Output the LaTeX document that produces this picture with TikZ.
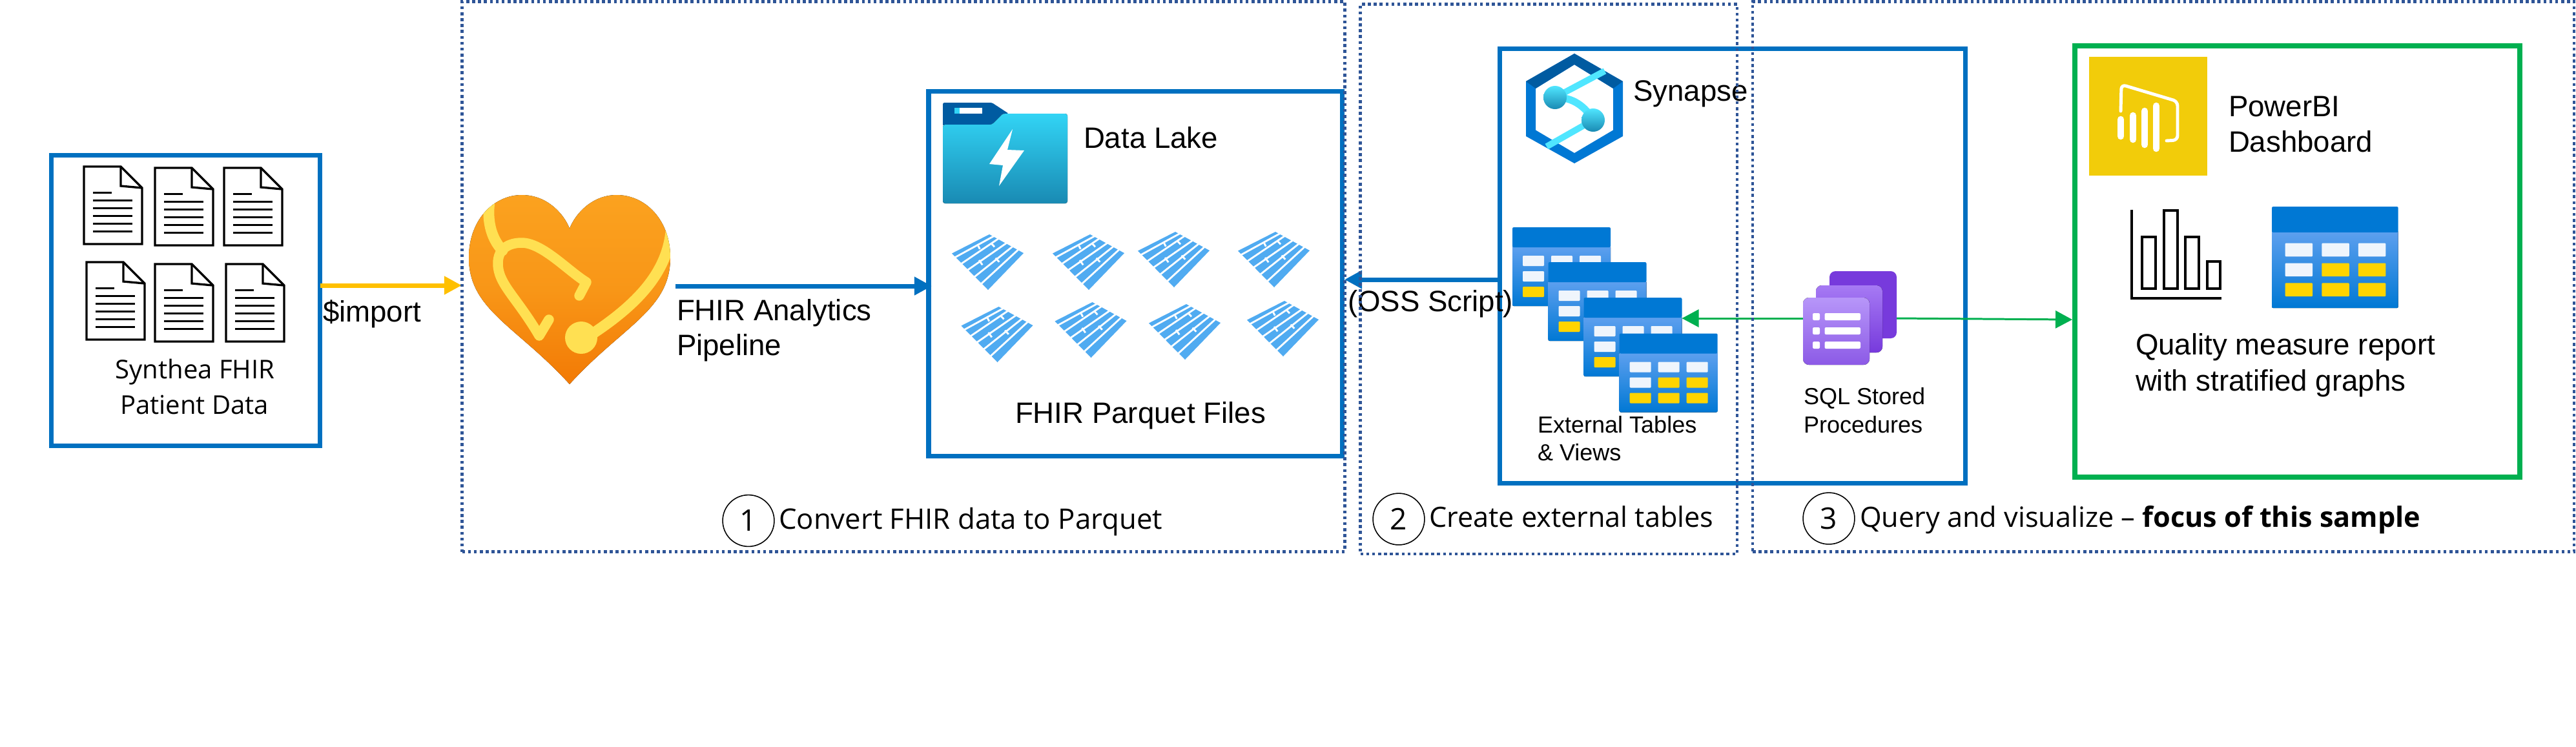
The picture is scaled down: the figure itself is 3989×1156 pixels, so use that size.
\documentclass[tikz,border=0pt]{standalone}
\usepackage{fontspec}
\setmainfont{Liberation Sans}
\newfontfamily\capfont{Open Sans}
\usetikzlibrary{arrows.meta,calc}
\definecolor{bluebox}{HTML}{0070C0}
\definecolor{greenbox}{HTML}{00B050}
\definecolor{dotblue}{HTML}{2F5597}
\definecolor{amber}{HTML}{FFC000}
\definecolor{azure}{HTML}{0078D4}
\definecolor{azuredark}{HTML}{005BA1}
\definecolor{azurelight}{HTML}{5EA0EF}
\definecolor{cellwhite}{HTML}{EFF5FC}
\definecolor{cellyellow}{HTML}{FFD400}
\definecolor{pqblue}{HTML}{50ABF1}
\definecolor{cyanlite}{HTML}{50E6FF}
\definecolor{cyandeep}{HTML}{198AB3}
\definecolor{cyantop}{HTML}{32D4F5}
\definecolor{purpA}{HTML}{773ADC}
\definecolor{purpB}{HTML}{A67AF4}
\definecolor{purpC}{HTML}{B796F9}
\definecolor{purpD}{HTML}{8C5AE6}
\definecolor{pbiyellow}{HTML}{F2CC0A}
\definecolor{heartA}{HTML}{FBA21F}
\definecolor{heartB}{HTML}{F27A05}
\definecolor{stetho}{HTML}{FFE052}
% text sizes given in reference pixels (1px = 0.01cm = 0.28453pt)
\newcommand{\pxfont}[1]{\fontsize{\dimexpr #1\dimexpr 0.28453pt\relax\relax}{\dimexpr #1\dimexpr 0.34pt\relax\relax}\selectfont}
\tikzset{
  x=0.01cm,y=-0.01cm,
  panel/.style={draw=bluebox,line width=2pt,fill=none},
  greenpanel/.style={draw=greenbox,line width=2.3pt,fill=none},
  dotbox/.style={draw=dotblue,line width=1.3pt,dash pattern=on 1.3pt off 1.3pt},
  flowblue/.style={draw=bluebox,line width=2pt,-{Triangle[length=7.7pt 0 0,width=7.7pt 0 0]}},
  flowamber/.style={draw=amber,line width=2pt,-{Triangle[length=7.7pt 0 0,width=7.7pt 0 0]}},
  flowgreen/.style={draw=greenbox,line width=0.85pt,-{Triangle[length=7.4pt 0 0,width=7.7pt 0 0]}},
  lab/.style={anchor=base west,inner sep=0,outer sep=0,font=\pxfont{45.6},align=left},
  smalllab/.style={anchor=base west,inner sep=0,outer sep=0,font=\pxfont{36}},
  caplab/.style={anchor=base west,inner sep=0,outer sep=0,font=\capfont\pxfont{43.2}},
  numcircle/.style={circle,draw=black,line width=0.45pt,minimum size=2.27pt*10,inner sep=0,font=\capfont\pxfont{46}},
  iconbox/.style={inner sep=0,outer sep=0,rectangle},
}
% doc icon at top-left #1,#2
\newcommand{\docicon}[2]{%
  \begin{scope}[shift={(#1,#2)}]
    \draw[black,line width=0.95pt,line join=miter,fill=white] (0,0)--(57,0)--(90,33)--(90,120)--(0,120)--cycle;
    \draw[black,line width=0.95pt] (57,0)--(57,30)--(90,33);
    \draw[black,line width=0.85pt] (14,40)--(43,40);
    \foreach \yy in {52,64,76,88,100}{\draw[black,line width=0.85pt] (14,\yy)--(75,\yy);}
  \end{scope}}
% parquet icon at top-left
\newcommand{\pqicon}[2]{%
  \begin{scope}[shift={(#1,#2)}]
    \fill[pqblue] (58,0)--(111,29)--(56,86)--(0,29.5)--cycle;
    \begin{scope}[white,line width=0.8pt,shorten <=-1pt,shorten >=-1pt]
      \draw (6,35)--(62,4.3);
      \draw (15.3,45)--(70,8);
      \draw (23.7,55.7)--(83.3,14.3);
      \draw (34.7,66)--(93.3,19.3);
      \draw (46,76)--(101.7,24.7);
    \end{scope}
    \begin{scope}[white,line width=0.8pt]
      \draw (40.7,17.7)--(43.3,22.7);
      \draw (61,14)--(66,19.3);
      \draw (42,40)--(47.3,47.3);
      \draw (67.7,36.7)--(73.3,42.7);
    \end{scope}
  \end{scope}}
% table icon at top-left, scaled
\newcommand{\tblicon}[3]{%
  \begin{scope}[shift={(#1,#2)},scale=#3]
    \fill[bottom color=azure,top color=azurelight,rounded corners=0.6pt] (0,29)--(0,122)--(152,122)--(152,29)--cycle;
    \fill[azure,rounded corners=0.6pt] (0,31)--(0,0)--(152,0)--(152,31)--cycle;
    \foreach \cx/\cy/\cc in {16/44/cellwhite,60/44/cellwhite,104/44/cellwhite,16/68/cellwhite,60/68/cellyellow,104/68/cellyellow,16/92/cellyellow,60/92/cellyellow,104/92/cellyellow}{
      \fill[\cc,rounded corners=0.3pt] (\cx,\cy) rectangle ++(33,16);}
  \end{scope}}
\begin{document}
\begin{tikzpicture}
\useasboundingbox (0,0) rectangle (3989,1156);
\fill[white] (0,0) rectangle (3989,1156);

% source box
\node[iconbox,panel,minimum width=416*0.01cm,minimum height=450*0.01cm,anchor=north west] (source) at (79.5,240.5) {};
\docicon{130}{258}\docicon{240}{260}\docicon{347}{260}
\docicon{134}{406}\docicon{240}{409}\docicon{350}{409}
\node[anchor=base,inner sep=0,font=\capfont\pxfont{40}] (srcA) at (302,586) {Synthea FHIR};
\node[anchor=base,inner sep=0,font=\capfont\pxfont{40}] (srcB) at (301,641) {Patient Data};

% heart
\node[iconbox,minimum width=312*0.01cm,minimum height=293*0.01cm,anchor=north west] (heart) at (726,302) {};
\begin{scope}
  \path[clip] (882,595) .. controls (800,505) and (726,480) .. (726,399)
    .. controls (726,340) and (765,302) .. (808,302)
    .. controls (850,302) and (875,335) .. (882,354)
    .. controls (889,335) and (914,302) .. (955,302)
    .. controls (999,302) and (1038,340) .. (1038,399)
    .. controls (1038,480) and (964,505) .. (882,595) -- cycle;
  \fill[top color=heartA,bottom color=heartB,middle color=heartA!70!heartB] (726,302) rectangle (1038,595);
  \draw[stetho,line width=4.8pt,line cap=round] (760,300) .. controls (752,340) and (760,368) .. (778,388);
  \draw[stetho,line width=4.4pt,line cap=round,line join=round] (850,495) -- (835,520) .. controls (800,460) and (771,440) .. (771,408)
    .. controls (771,385) and (788,376) .. (808,376) .. controls (840,376) and (880,420) .. (908,437)  -- (897,458);
  \draw[stetho,line width=4.8pt] (1040,340) .. controls (1040,410) and (1000,465) .. (905,525);
  \fill[stetho] (900,523) circle [radius=25];
\end{scope}

% lake box
\node[iconbox,panel,minimum width=640*0.01cm,minimum height=565*0.01cm,anchor=north west] (lake) at (1438,141) {};
\fill[azuredark,rounded corners=0.5pt] (1460,195)--(1460,159)--(1536,159)--(1562,176)--(1553,176)--(1536,195)--cycle;
\fill[white] (1478,167) rectangle (1521,176);
\fill[cyantop] (1478,167) rectangle (1486,176);
\fill[top color=cyantop,bottom color=cyandeep,rounded corners=1pt] (1460,315)--(1460,193)--(1536,193)--(1553,176)--(1653,176)--(1653,315)--cycle;
\fill[white] (1568,200)--(1560,232)--(1586,233)--(1547,288)--(1553,256)--(1532,254)--cycle;
\node[lab] (lakeT) at (1678,229) {Data Lake};
\pqicon{1474}{363}\pqicon{1630}{363}\pqicon{1762}{359}\pqicon{1917}{359}
\pqicon{1488.5}{475}\pqicon{1633.5}{468}\pqicon{1779}{471}\pqicon{1931}{466}
\node[lab] (lakeB) at (1572,655) {FHIR Parquet Files};

% synapse box
\node[iconbox,panel,minimum width=721*0.01cm,minimum height=673*0.01cm,anchor=north west] (syn) at (2322,75) {};
\fill[azure,even odd rule] (2438,83)--(2513,126)--(2513,211)--(2438,253)--(2363,211)--(2363,126)--cycle
  (2438,100)--(2498,137)--(2498,201.5)--(2438,237)--(2378,201.5)--(2378,137)--cycle;
\fill[azuredark] (2363,126)--(2438,83)--(2513,126)--(2498,137)--(2438,100)--(2378,137)--cycle;
\draw[cyanlite,line width=2.8pt] (2408,151)--(2485,110);
\draw[cyanlite,line width=2.8pt] (2467,186)--(2395,227);
\draw[cyanlite,line width=3.2pt] (2408,151) .. controls (2435,150) and (2455,165) .. (2467,186);
\shade[top color=cyanlite,middle color=cyanlite!85!cyandeep,bottom color=cyandeep] (2408,151) circle [radius=18];
\shade[top color=cyanlite,middle color=cyanlite!85!cyandeep,bottom color=cyandeep] (2467,186) circle [radius=18];
\node[lab] (synT) at (2529,156.5) {Synapse};
\tblicon{2342}{352}{1}\tblicon{2397.5}{406}{1}\tblicon{2452.5}{461}{1}\tblicon{2507.7}{516.5}{1}
\node[iconbox,minimum width=152*0.01cm,minimum height=122*0.01cm,anchor=north west] (tables) at (2452.5,432) {};
\node[smalllab] (extA) at (2381,670) {External Tables};
\node[smalllab] (extB) at (2381,713.5) {\& Views};

% stored procedures
\node[iconbox,minimum width=145*0.01cm,minimum height=64*0.01cm,anchor=west] (sql) at (2792,493) {};
\draw[flowgreen] (sql.west) -- (tables.east);
\coordinate (pbiIn) at (3209,495);
\draw[flowgreen] (sql.east) -- (pbiIn);
\fill[purpA,rounded corners=2.6pt] (2833,420) rectangle (2937,524);
\fill[top color=purpB,bottom color=purpA,rounded corners=2.6pt] (2812,442) rectangle (2915,546);
\fill[top color=purpC,bottom color=purpD,rounded corners=2.6pt] (2792,461) rectangle (2895,565);
\foreach \yy in {485,507,529}{
  \fill[white,rounded corners=0.6pt] (2807,\yy) rectangle ++(11,11);
  \fill[white,rounded corners=0.6pt] (2825.5,\yy) rectangle ++(55.5,11);}
\node[smalllab] (sqlA) at (2793,626) {SQL Stored};
\node[smalllab] (sqlB) at (2793,670) {Procedures};

% power bi box
\node[iconbox,greenpanel,minimum width=689*0.01cm,minimum height=668*0.01cm,anchor=north west] (pbi) at (3213,71) {};
\fill[pbiyellow] (3235,88) rectangle (3418,272);
\draw[white,line width=1.4pt,rounded corners=2pt,line cap=round] (3284,172)--(3285,131)--(3372,157)--(3372,217)--(3355,218);
\foreach \xx/\ya/\yb in {3284/185/211,3303/179/216,3321/172/224,3339/164/230}{
  \draw[white,line width=3pt,line cap=round] (\xx,\ya)--(\xx,\yb);}
\node[lab] (pbiA) at (3451,180) {PowerBI};
\node[lab] (pbiB) at (3451,235) {Dashboard};
\draw[black,line width=1.1pt] (3301,324.5)--(3301,462)--(3440,462);
\foreach \xa/\ya/\xb in {3317/367/3338,3351/326/3372,3384/367/3405,3418/405/3438}{
  \draw[black,line width=1pt] (\xa,\ya) rectangle (\xb,447);}
\tblicon{3518}{320}{1.2875}
\node[lab] (qualA) at (3307,549.5) {Quality measure report};
\node[lab] (qualB) at (3307,605) {with stratified graphs};

% connectors
\coordinate (impEnd) at (715,442);
\coordinate (heartOut) at (1046,443);
\coordinate (lakeIn) at (1443,443);
\coordinate (lakeOut) at (2082,433);
\draw[flowamber] (source.east |- impEnd) -- (impEnd);
\draw[flowblue] (heartOut) -- (lakeIn);
\draw[flowblue] (syn.west |- lakeOut) -- (lakeOut);
\node[lab] (import) at (500,498) {\$import};
\node[lab] (fhirA) at (1048,496) {FHIR Analytics};
\node[lab] (fhirB) at (1048,550) {Pipeline};
\node[lab] (oss) at (2087,482) {(OSS Script)};

% dotted phase boxes
\node[iconbox,dotbox,minimum width=1367*0.01cm,minimum height=852*0.01cm,anchor=north west] (phaseA) at (715.5,2.5) {};
\node[iconbox,dotbox,minimum width=583.5*0.01cm,minimum height=851.5*0.01cm,anchor=north west] (phaseB) at (2106.5,6.5) {};
\node[iconbox,dotbox,minimum width=1272*0.01cm,minimum height=852*0.01cm,anchor=north west] (phaseC) at (2714,2.5) {};

% captions
\node[numcircle] (nA) at (1159,806.5) {1};
\node[caplab,font=\capfont\pxfont{43.7}] (cA) at (1206,819) {Convert FHIR data to Parquet};
\node[numcircle] (nB) at (2166,804) {2};
\node[caplab] (cB) at (2213,816) {Create external tables};
\node[numcircle] (nC) at (2832,803) {3};
\node[caplab] (cC) at (2880,816) {Query and visualize – \textbf{focus of this sample}};
\end{tikzpicture}
\end{document}
